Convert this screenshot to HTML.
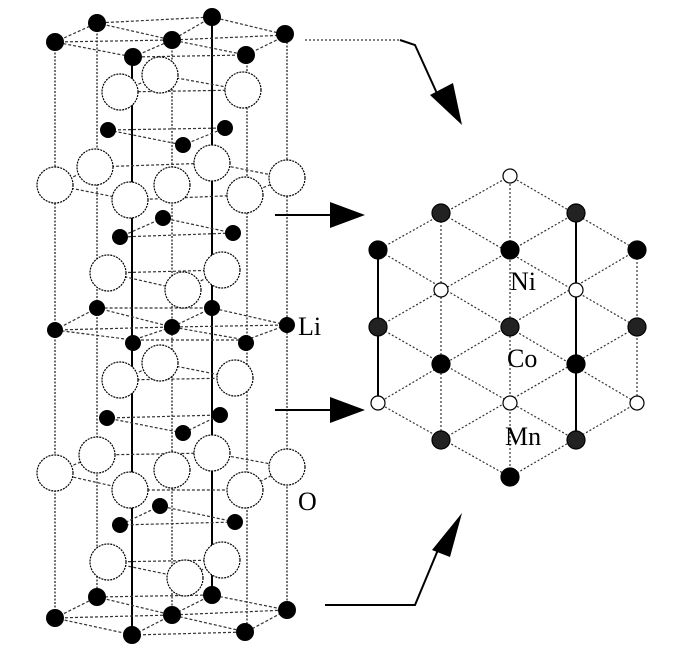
<!DOCTYPE html><html><head><style>body{margin:0;background:#fff}svg{display:block}</style></head><body>
<svg width="684" height="669" viewBox="0 0 684 669" xmlns="http://www.w3.org/2000/svg" font-family="Liberation Serif, serif">
<g stroke="#000" fill="none">
<g stroke-width="1.5" stroke-dasharray="2,1.5" stroke="#444">
<line x1="55" y1="42" x2="55" y2="618"/><line x1="97" y1="23" x2="97" y2="597"/><line x1="172" y1="40" x2="172" y2="615"/><line x1="287" y1="35" x2="287" y2="610"/>
<line x1="247" y1="55" x2="247" y2="632"/>
</g>
<g stroke-width="2"><line x1="132" y1="57" x2="132" y2="635"/><line x1="212" y1="17" x2="212" y2="595"/></g>
<g stroke-width="1.2" stroke-dasharray="3,2" stroke="#333">
<polygon points="55,42 97,23 212,17 287,35 246,55 133,57"/><polyline points="55,42 172,40 287,35"/><polyline points="97,23 172,40 246,55"/><polyline points="212,17 172,40 133,57"/>
<polygon points="55,330 97,308 212,308 287,325 246,340 133,340"/><polyline points="55,330 172,327 287,325"/><polyline points="97,308 172,327 246,340"/><polyline points="212,308 172,327 133,340"/>
<polygon points="55,618 97,597 212,595 287,610 246,632 133,635"/><polyline points="55,618 172,615 287,610"/><polyline points="97,597 172,615 246,632"/><polyline points="212,595 172,615 133,635"/>
<polygon points="108,130 225,128 183,145"/><polygon points="163,218 120,237 233,233"/><polygon points="107,418 220,415 183,433"/><polygon points="160,506 120,525 235,522"/>
<polygon points="55,185 95,167 212,163 287,178 245,195 130,200"/><polygon points="55,473 97,455 212,453 287,467 245,490 130,490"/>
<polygon points="120,92 160,75 243,90"/><polygon points="108,273 222,270 183,290"/><polygon points="160,363 120,380 235,378"/><polygon points="108,562 222,560 185,578"/>
</g>
</g>
<g fill="#fff" stroke="#000" stroke-width="1.2" stroke-dasharray="2,1">
<circle cx="160" cy="75" r="18"/><circle cx="120" cy="92" r="18"/><circle cx="243" cy="90" r="18"/>
<circle cx="55" cy="185" r="18"/><circle cx="95" cy="167" r="18"/><circle cx="212" cy="163" r="18"/><circle cx="287" cy="178" r="18"/><circle cx="172" cy="185" r="18"/><circle cx="130" cy="200" r="18"/><circle cx="245" cy="195" r="18"/>
<circle cx="108" cy="273" r="18"/><circle cx="222" cy="270" r="18"/><circle cx="183" cy="290" r="18"/>
<circle cx="160" cy="363" r="18"/><circle cx="120" cy="380" r="18"/><circle cx="235" cy="378" r="18"/>
<circle cx="55" cy="473" r="18"/><circle cx="97" cy="455" r="18"/><circle cx="212" cy="453" r="18"/><circle cx="287" cy="467" r="18"/><circle cx="172" cy="470" r="18"/><circle cx="130" cy="490" r="18"/><circle cx="245" cy="490" r="18"/>
<circle cx="108" cy="562" r="18"/><circle cx="222" cy="560" r="18"/><circle cx="185" cy="578" r="18"/>
</g>
<g fill="#000">
<circle cx="55" cy="42" r="9"/><circle cx="97" cy="23" r="9"/><circle cx="172" cy="40" r="9"/><circle cx="212" cy="17" r="9"/><circle cx="285" cy="34" r="9"/><circle cx="246" cy="55" r="9"/><circle cx="133" cy="57" r="9"/>
<circle cx="108" cy="130" r="8"/><circle cx="225" cy="128" r="8"/><circle cx="183" cy="145" r="8"/>
<circle cx="163" cy="218" r="8"/><circle cx="120" cy="237" r="8"/><circle cx="233" cy="233" r="8"/>
<circle cx="55" cy="330" r="8"/><circle cx="97" cy="308" r="8"/><circle cx="212" cy="308" r="8"/><circle cx="287" cy="325" r="8"/><circle cx="172" cy="327" r="8"/><circle cx="133" cy="343" r="8"/><circle cx="246" cy="343" r="8"/>
<circle cx="107" cy="418" r="8"/><circle cx="220" cy="415" r="8"/><circle cx="183" cy="433" r="8"/>
<circle cx="160" cy="506" r="8"/><circle cx="120" cy="525" r="8"/><circle cx="235" cy="522" r="8"/>
<circle cx="97" cy="597" r="9"/><circle cx="212" cy="595" r="9"/><circle cx="55" cy="618" r="9"/><circle cx="172" cy="615" r="9"/><circle cx="287" cy="610" r="9"/><circle cx="132" cy="635" r="9"/><circle cx="245" cy="632" r="9"/>
</g>
<text x="298" y="335" font-size="26">Li</text><text x="298" y="510" font-size="26">O</text>
<g stroke="#000" stroke-width="2" fill="none">
<line x1="305" y1="40" x2="400" y2="40" stroke-dasharray="2,2" stroke-width="1"/>
<polyline points="400,40 415,45 440,100"/>
<line x1="275" y1="215" x2="335" y2="215"/><line x1="275" y1="410" x2="335" y2="410"/>
<polyline points="325,605 415,605 440,545"/>
</g>
<g fill="#000">
<polygon points="430,95 462,125 453,83"/><polygon points="330,202 365,215 330,228"/><polygon points="330,397 365,410 330,423"/><polygon points="432,550 462,513 450,557"/>
</g>
<g stroke="#333" stroke-width="1.2" stroke-dasharray="2,2" fill="none">
<line x1="378" y1="250" x2="378" y2="403"/><line x1="441" y1="213" x2="441" y2="440"/><line x1="510" y1="176" x2="510" y2="477"/><line x1="576" y1="213" x2="576" y2="440"/><line x1="637" y1="250" x2="637" y2="403"/>
<line x1="378" y1="250" x2="510" y2="176"/><line x1="378" y1="327" x2="576" y2="213"/><line x1="378" y1="403" x2="637" y2="250"/><line x1="441" y1="440" x2="637" y2="327"/><line x1="510" y1="477" x2="637" y2="403"/>
<line x1="510" y1="176" x2="637" y2="250"/><line x1="441" y1="213" x2="637" y2="327"/><line x1="378" y1="250" x2="637" y2="403"/><line x1="378" y1="327" x2="576" y2="440"/><line x1="378" y1="403" x2="510" y2="477"/>
</g>
<g stroke="#000" stroke-width="2"><line x1="378" y1="250" x2="378" y2="403"/><line x1="576" y1="213" x2="576" y2="440"/></g>
<g stroke="#000" stroke-width="1.2">
<circle cx="510" cy="176" r="7" fill="#fff"/><circle cx="441" cy="290" r="7" fill="#fff"/><circle cx="576" cy="290" r="7" fill="#fff"/><circle cx="378" cy="403" r="7" fill="#fff"/><circle cx="510" cy="403" r="7" fill="#fff"/><circle cx="637" cy="403" r="7" fill="#fff"/>
<circle cx="510" cy="250" r="9" fill="#000"/><circle cx="378" cy="250" r="9" fill="#000"/><circle cx="637" cy="250" r="9" fill="#000"/><circle cx="441" cy="364" r="9" fill="#000"/><circle cx="576" cy="364" r="9" fill="#000"/><circle cx="510" cy="477" r="9" fill="#000"/>
<g fill="#222"><circle cx="441" cy="213" r="9"/><circle cx="576" cy="213" r="9"/><circle cx="378" cy="327" r="9"/><circle cx="510" cy="327" r="9"/><circle cx="637" cy="327" r="9"/><circle cx="441" cy="440" r="9"/><circle cx="576" cy="440" r="9"/></g>
</g>
<text x="510" y="290" font-size="26">Ni</text><text x="507" y="367" font-size="26">Co</text><text x="505" y="445" font-size="26">Mn</text>
</svg></body></html>
